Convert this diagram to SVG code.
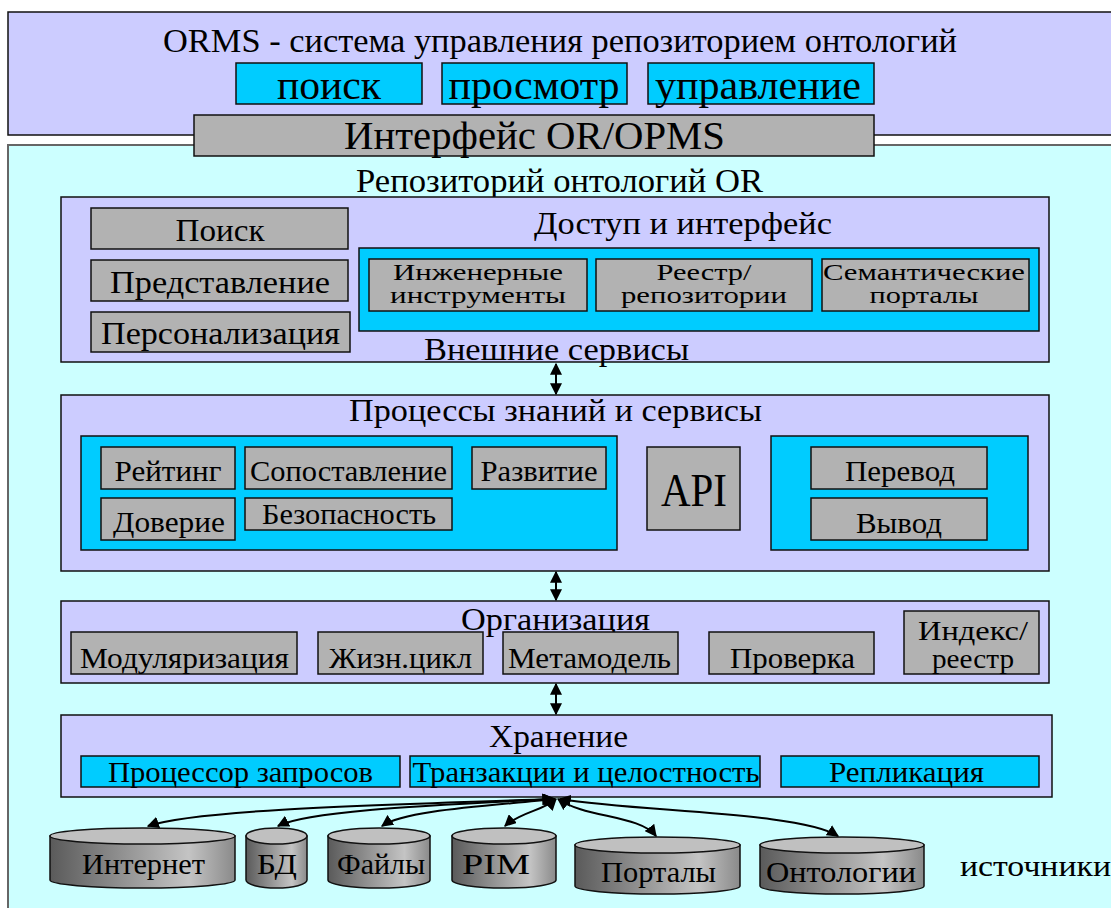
<svg xmlns="http://www.w3.org/2000/svg" width="1111" height="908" viewBox="0 0 1111 908">
<style>
text{font-family:"Liberation Serif","Times New Roman",serif;fill:#000;text-anchor:middle}
.lav{fill:#CCCCFF;stroke:#111;stroke-width:1.5}
.cy{fill:#00CCFF;stroke:#111;stroke-width:1.5}
.gr{fill:#B2B2B2;stroke:#111;stroke-width:1.5}
.lc{fill:#CCFFFF;stroke:#666;stroke-width:2}
.conn{fill:none;stroke:#000;stroke-width:2}
.cylb{fill:url(#cylg);stroke:#111;stroke-width:1.5}
.cylt{fill:#C0C0C0;stroke:#111;stroke-width:1.5}
</style>
<defs>
<marker id="ah" viewBox="0 0 10 10" refX="9" refY="5" markerWidth="6" markerHeight="6" orient="auto-start-reverse" markerUnits="strokeWidth">
<path d="M0,0 L10,5 L0,10 Z" fill="#000"/>
</marker>
<linearGradient id="cylg" x1="0" y1="0" x2="1" y2="0">
<stop offset="0" stop-color="#5a5a5a"/>
<stop offset="0.75" stop-color="#c4c4c4"/>
<stop offset="1" stop-color="#8a8a8a"/>
</linearGradient>
</defs>
<rect width="1111" height="908" fill="#fff"/>

<g id="orms">
<rect x="8" y="12" width="1110" height="123" class="lav" stroke-width="2"/>
<text x="560" y="52" font-size="34" textLength="794" lengthAdjust="spacingAndGlyphs">ORMS - система управления репозиторием онтологий</text>
</g>
<g id="poisk"><rect x="236" y="63" width="186" height="41" class="cy"/><text x="329" y="99" font-size="40" textLength="104" lengthAdjust="spacingAndGlyphs">поиск</text></g>
<g id="prosmotr"><rect x="442" y="63" width="185" height="41" class="cy"/><text x="534" y="99" font-size="40" textLength="171" lengthAdjust="spacingAndGlyphs">просмотр</text></g>
<g id="upravlenie"><rect x="648" y="63" width="226" height="41" class="cy"/><text x="758" y="99" font-size="40" textLength="206" lengthAdjust="spacingAndGlyphs">управление</text></g>

<g id="repo">
<rect x="8" y="145" width="1110" height="775" class="lc"/>
<text x="559.5" y="192" font-size="33" textLength="407" lengthAdjust="spacingAndGlyphs">Репозиторий онтологий OR</text>
</g>
<g id="interface"><rect x="194" y="115" width="680" height="41" class="gr"/><text x="534.5" y="149" font-size="40" textLength="381" lengthAdjust="spacingAndGlyphs">Интерфейс OR/OPMS</text></g>

<g id="layer-access">
<rect x="61" y="197" width="988" height="165" class="lav"/>
<text x="683" y="234" font-size="32" textLength="298" lengthAdjust="spacingAndGlyphs">Доступ и интерфейс</text>
<text x="556.5" y="360" font-size="32" textLength="265" lengthAdjust="spacingAndGlyphs">Внешние сервисы</text>
</g>
<g id="search2"><rect x="91" y="208" width="257" height="41" class="gr"/><text x="220" y="241" font-size="32" textLength="89" lengthAdjust="spacingAndGlyphs">Поиск</text></g>
<g id="predst"><rect x="91" y="260" width="257" height="41" class="gr"/><text x="220" y="293" font-size="32" textLength="220" lengthAdjust="spacingAndGlyphs">Представление</text></g>
<g id="personal"><rect x="91" y="312" width="259" height="40" class="gr"/><text x="220.5" y="344" font-size="32" textLength="239" lengthAdjust="spacingAndGlyphs">Персонализация</text></g>
<g id="ext-services">
<rect x="359" y="248" width="680" height="83" class="cy"/>
</g>
<g id="eng"><rect x="369" y="259" width="218" height="52" class="gr"/><text x="478" y="280" font-size="23" textLength="170" lengthAdjust="spacingAndGlyphs">Инженерные</text><text x="478" y="303" font-size="23" textLength="176" lengthAdjust="spacingAndGlyphs">инструменты</text></g>
<g id="registry"><rect x="596" y="259" width="216" height="52" class="gr"/><text x="704" y="280" font-size="23" textLength="95" lengthAdjust="spacingAndGlyphs">Реестр/</text><text x="704" y="303" font-size="23" textLength="166" lengthAdjust="spacingAndGlyphs">репозитории</text></g>
<g id="semantic"><rect x="822" y="259" width="207" height="52" class="gr"/><text x="924" y="280" font-size="23" textLength="202" lengthAdjust="spacingAndGlyphs">Семантические</text><text x="924" y="303" font-size="23" textLength="109" lengthAdjust="spacingAndGlyphs">порталы</text></g>

<g id="layer-processes">
<rect x="61" y="395" width="988" height="176" class="lav"/>
<text x="555.5" y="421" font-size="32" textLength="413" lengthAdjust="spacingAndGlyphs">Процессы знаний и сервисы</text>
<rect x="81" y="436" width="536" height="114" class="cy"/>
<rect x="771" y="436" width="257" height="114" class="cy"/>
</g>
<g id="rating"><rect x="101" y="447" width="134" height="42" class="gr"/><text x="168" y="481" font-size="30" textLength="107" lengthAdjust="spacingAndGlyphs">Рейтинг</text></g>
<g id="matching"><rect x="245" y="447" width="207" height="42" class="gr"/><text x="348.5" y="481" font-size="30" textLength="197" lengthAdjust="spacingAndGlyphs">Сопоставление</text></g>
<g id="evolution"><rect x="472" y="447" width="134" height="42" class="gr"/><text x="539" y="481" font-size="30" textLength="117" lengthAdjust="spacingAndGlyphs">Развитие</text></g>
<g id="trust"><rect x="101" y="498" width="134" height="42" class="gr"/><text x="169" y="532" font-size="30" textLength="112" lengthAdjust="spacingAndGlyphs">Доверие</text></g>
<g id="security"><rect x="245" y="498" width="207" height="32" class="gr"/><text x="349" y="524" font-size="30" textLength="174" lengthAdjust="spacingAndGlyphs">Безопасность</text></g>
<g id="api"><rect x="647" y="447" width="93" height="83" class="gr"/><text x="694" y="506" font-size="46" textLength="66" lengthAdjust="spacingAndGlyphs">API</text></g>
<g id="translation"><rect x="811" y="447" width="176" height="42" class="gr"/><text x="900" y="481" font-size="30" textLength="110" lengthAdjust="spacingAndGlyphs">Перевод</text></g>
<g id="inference"><rect x="811" y="498" width="176" height="42" class="gr"/><text x="899" y="533" font-size="30" textLength="86" lengthAdjust="spacingAndGlyphs">Вывод</text></g>

<g id="layer-organization">
<rect x="61" y="601" width="988" height="82" class="lav"/>
<text x="555.5" y="630" font-size="32" textLength="189" lengthAdjust="spacingAndGlyphs">Организация</text>
</g>
<g id="modular"><rect x="71" y="632" width="226" height="42" class="gr"/><text x="184.5" y="668" font-size="30" textLength="209" lengthAdjust="spacingAndGlyphs">Модуляризация</text></g>
<g id="lifecycle"><rect x="318" y="632" width="165" height="42" class="gr"/><text x="400.5" y="668" font-size="30" textLength="143" lengthAdjust="spacingAndGlyphs">Жизн.цикл</text></g>
<g id="metamodel"><rect x="503" y="632" width="175" height="42" class="gr"/><text x="589.5" y="668" font-size="30" textLength="163" lengthAdjust="spacingAndGlyphs">Метамодель</text></g>
<g id="check"><rect x="709" y="632" width="165" height="42" class="gr"/><text x="792.5" y="668" font-size="30" textLength="125" lengthAdjust="spacingAndGlyphs">Проверка</text></g>
<g id="index"><rect x="904" y="611" width="135" height="63" class="gr"/><text x="973" y="640" font-size="28" textLength="110" lengthAdjust="spacingAndGlyphs">Индекс/</text><text x="973" y="668" font-size="28" textLength="82" lengthAdjust="spacingAndGlyphs">реестр</text></g>

<g id="layer-storage">
<rect x="61" y="715" width="991" height="82" class="lav"/>
<text x="558.5" y="747" font-size="32" textLength="139" lengthAdjust="spacingAndGlyphs">Хранение</text>
</g>
<g id="query"><rect x="81" y="756" width="319" height="31" class="cy"/><text x="240.5" y="782" font-size="30" textLength="265" lengthAdjust="spacingAndGlyphs">Процессор запросов</text></g>
<g id="transactions"><rect x="410" y="756" width="350" height="31" class="cy"/><text x="586" y="782" font-size="30" textLength="347" lengthAdjust="spacingAndGlyphs">Транзакции и целостность</text></g>
<g id="replication"><rect x="781" y="756" width="258" height="31" class="cy"/><text x="906.5" y="782" font-size="30" textLength="155" lengthAdjust="spacingAndGlyphs">Репликация</text></g>

<g id="cyl-internet">
<path class="cylb" d="M50,836 L50,880 A92.5,8 0 0 0 235,880 L235,836 Z"/>
<ellipse class="cylt" cx="142.5" cy="836" rx="92.5" ry="8"/>
<text x="143.5" y="874" font-size="30" textLength="123" lengthAdjust="spacingAndGlyphs">Интернет</text>
</g>
<g id="cyl-db">
<path class="cylb" d="M246,836 L246,880 A30.5,8 0 0 0 307,880 L307,836 Z"/>
<ellipse class="cylt" cx="276.5" cy="836" rx="30.5" ry="8"/>
<text x="277" y="874" font-size="30" textLength="40" lengthAdjust="spacingAndGlyphs">БД</text>
</g>
<g id="cyl-files">
<path class="cylb" d="M328,836 L328,880 A51,8 0 0 0 430,880 L430,836 Z"/>
<ellipse class="cylt" cx="379" cy="836" rx="51" ry="8"/>
<text x="381" y="874" font-size="30" textLength="88" lengthAdjust="spacingAndGlyphs">Файлы</text>
</g>
<g id="cyl-pim">
<path class="cylb" d="M452,836 L452,880 A52,8 0 0 0 556,880 L556,836 Z"/>
<ellipse class="cylt" cx="504" cy="836" rx="52" ry="8"/>
<text x="496" y="874" font-size="30" textLength="68" lengthAdjust="spacingAndGlyphs">PIM</text>
</g>
<g id="cyl-portals">
<path class="cylb" d="M575,845 L575,886 A82.5,8 0 0 0 740,886 L740,845 Z"/>
<ellipse class="cylt" cx="657.5" cy="845" rx="82.5" ry="8"/>
<text x="658.5" y="882" font-size="30" textLength="115" lengthAdjust="spacingAndGlyphs">Порталы</text>
</g>
<g id="cyl-ontologies">
<path class="cylb" d="M760,845 L760,886 A82,8 0 0 0 924,886 L924,845 Z"/>
<ellipse class="cylt" cx="842" cy="845" rx="82" ry="8"/>
<text x="841" y="882" font-size="30" textLength="150" lengthAdjust="spacingAndGlyphs">Онтологии</text>
</g>
<g id="sources-label">
<text x="960" y="876" font-size="30" textLength="151" lengthAdjust="spacingAndGlyphs" style="text-anchor:start">источники</text>
</g>

<g id="connectors">
<line class="conn" x1="556" y1="364" x2="556" y2="394" marker-start="url(#ah)" marker-end="url(#ah)"/>
<line class="conn" x1="556" y1="572" x2="556" y2="600" marker-start="url(#ah)" marker-end="url(#ah)"/>
<line class="conn" x1="556" y1="684" x2="556" y2="714" marker-start="url(#ah)" marker-end="url(#ah)"/>
<path class="conn" d="M553,799 C420,804 200,808 148,826" marker-start="url(#ah)" marker-end="url(#ah)"/>
<path class="conn" d="M554,799 C440,805 310,810 278,826" marker-start="url(#ah)" marker-end="url(#ah)"/>
<path class="conn" d="M555,799 C490,806 405,810 382,826" marker-start="url(#ah)" marker-end="url(#ah)"/>
<path class="conn" d="M556,799 C545,810 520,812 505,826" marker-start="url(#ah)" marker-end="url(#ah)"/>
<path class="conn" d="M558,799 C585,818 640,815 656,836" marker-start="url(#ah)" marker-end="url(#ah)"/>
<path class="conn" d="M560,799 C640,812 800,812 838,836" marker-start="url(#ah)" marker-end="url(#ah)"/>
</g>
</svg>
